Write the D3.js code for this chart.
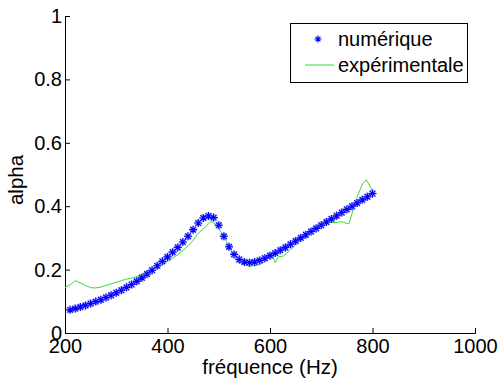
<!DOCTYPE html>
<html><head><meta charset="utf-8">
<script src="https://cdn.jsdelivr.net/npm/d3@7"></script>
<style>body{margin:0;background:#fff}svg{display:block;font-family:"Liberation Sans",Arial,sans-serif}</style>
</head><body><svg id="c" width="498" height="382"></svg>
<script>
const numFreq = [210,220,230,240,250,260,270,280,290,300,310,320,330,340,350,360,370,380,390,400,410,420,430,440,450,460,470,480,490,500,510,520,530,540,550,560,570,580,590,600,610,620,630,640,650,660,670,680,690,700,710,720,730,740,750,760,770,780,790,800];
const numAlpha = [0.073,0.077,0.082,0.087,0.093,0.099,0.105,0.112,0.119,0.127,0.135,0.144,0.153,0.163,0.174,0.186,0.198,0.212,0.226,0.240,0.255,0.270,0.287,0.305,0.326,0.347,0.363,0.369,0.364,0.340,0.305,0.272,0.248,0.232,0.224,0.222,0.224,0.229,0.236,0.244,0.252,0.261,0.270,0.280,0.290,0.300,0.310,0.320,0.330,0.340,0.350,0.360,0.370,0.380,0.390,0.400,0.410,0.420,0.430,0.440];
const expFreq = [200,210,220,230,240,250,260,270,280,290,300,310,320,330,340,350,360,370,380,390,400,410,420,430,440,450,460,470,480,485,490,500,510,520,530,540,550,560,570,580,590,597,603,610,616,626,640,655,672,688,707,723,740,754,769,781,788,798,800];
const expAlpha = [0.143,0.152,0.165,0.158,0.150,0.143,0.142,0.145,0.150,0.155,0.160,0.165,0.170,0.173,0.178,0.186,0.194,0.202,0.210,0.217,0.225,0.235,0.247,0.260,0.275,0.292,0.315,0.328,0.345,0.352,0.348,0.330,0.304,0.272,0.245,0.222,0.215,0.211,0.212,0.216,0.225,0.248,0.253,0.222,0.240,0.243,0.262,0.288,0.315,0.338,0.351,0.348,0.351,0.344,0.425,0.472,0.483,0.455,0.445];
const xTicks = [200,400,600,800,1000];
const yTicks = [0,0.2,0.4,0.6,0.8,1];
const yTickLabels = ["0","0.2","0.4","0.6","0.8","1"];
const xLabel = "fréquence (Hz)", yLabel = "alpha";
const legendLabels = ["numérique","expérimentale"];

const svg = d3.select("#c");
const L=65, R=475, T=16, B=333;
const x = d3.scaleLinear().domain([200,1000]).range([L,R]);
const y = d3.scaleLinear().domain([0,1]).range([B,T]);
const fs = 20, fl = 20.5, fg = 20;

// axes
const gx = svg.append("g").attr("transform",`translate(0,${B})`)
  .call(d3.axisBottom(x).tickValues(xTicks).tickSize(-5).tickPadding(5).tickFormat(d3.format("d")));
const gy = svg.append("g").attr("transform",`translate(${L},0)`)
  .call(d3.axisLeft(y).tickValues(yTicks).tickSize(-5).tickPadding(3).tickFormat((d,i)=>yTickLabels[i]));
[gx,gy].forEach(g=>{
  g.select(".domain").attr("stroke","#000").attr("stroke-width",1);
  g.selectAll(".tick line").attr("stroke","#000");
  g.selectAll(".tick text").attr("fill","#000").attr("font-size",fs).attr("font-family","Liberation Sans, Arial, sans-serif");
});
gx.selectAll(".tick text").attr("dy","0.75em");

// experimental line
svg.append("path").datum(expFreq.map((f,i)=>[f,expAlpha[i]]))
  .attr("fill","none").attr("stroke","#33dd33").attr("stroke-width",1)
  .attr("d",d3.line().x(d=>x(d[0])).y(d=>y(d[1])));

// asterisk marker
function star(cx,cy,r){
  const a=r*0.7071;
  return `M${cx-r},${cy}L${cx+r},${cy}M${cx},${cy-r}L${cx},${cy+r}M${cx-a},${cy-a}L${cx+a},${cy+a}M${cx-a},${cy+a}L${cx+a},${cy-a}`;
}
const pts = numFreq.map((f,i)=>[f,numAlpha[i]]);
svg.append("g").selectAll("path.h").data(pts).join("path")
  .attr("d",d=>star(x(d[0]),y(d[1]),4)).attr("stroke","#8888ff").attr("stroke-width",2.2).attr("opacity",0.6);
svg.append("g").selectAll("path.s").data(pts).join("path")
  .attr("d",d=>star(x(d[0]),y(d[1]),4)).attr("stroke","#0000ff").attr("stroke-width",1.1);

// labels
svg.append("text").attr("x",270).attr("y",374).attr("text-anchor","middle")
  .attr("font-size",fl).text(xLabel);
svg.append("text").attr("transform",`translate(23,180) rotate(-90)`).attr("text-anchor","middle")
  .attr("font-size",fl).text(yLabel);

// legend
const lg = svg.append("g");
lg.append("rect").attr("x",290.5).attr("y",23.5).attr("width",177).attr("height",59)
  .attr("fill","#fff").attr("stroke","#000").attr("stroke-width",1);
lg.append("path").attr("d",star(318,39,3.5)).attr("stroke","#0000ff").attr("stroke-width",1.1);
lg.append("line").attr("x1",305).attr("x2",334).attr("y1",65).attr("y2",65).attr("stroke","#33dd33").attr("stroke-width",1);
lg.append("text").attr("x",338).attr("y",46).attr("font-size",fg).text(legendLabels[0]);
lg.append("text").attr("x",338).attr("y",72).attr("font-size",fg).text(legendLabels[1]);
</script></body></html>
